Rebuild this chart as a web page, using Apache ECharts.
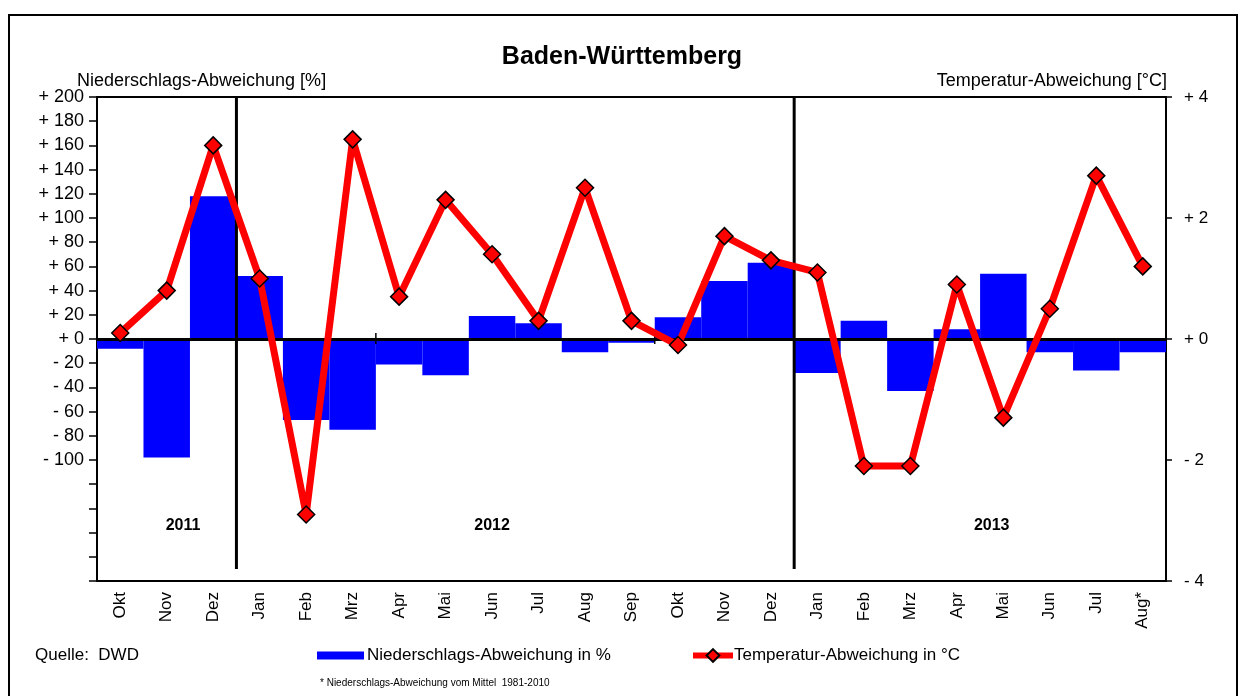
<!DOCTYPE html>
<html>
<head>
<meta charset="utf-8">
<script src="https://cdn.jsdelivr.net/npm/echarts@6/dist/echarts.min.js"></script>
<style>
  html, body { margin: 0; padding: 0; background: #fff; }
  #frame { position: absolute; left: 8px; top: 14px; width: 1230px; height: 700px; border: 2px solid #000; border-bottom: none; box-sizing: border-box; }
  #chart { position: absolute; left: 0; top: 0; width: 1244px; height: 696px; }
</style>
</head>
<body>
<div id="frame"></div>
<div id="chart"></div>
<script>
// Monthly deviations, Oct 2011 – Aug 2013
const months = ['Okt', 'Nov', 'Dez', 'Jan', 'Feb', 'Mrz', 'Apr', 'Mai', 'Jun', 'Jul', 'Aug', 'Sep',
                'Okt', 'Nov', 'Dez', 'Jan', 'Feb', 'Mrz', 'Apr', 'Mai', 'Jun', 'Jul', 'Aug*'];
// precipitation deviation in %
const precipDev = [-8, -98, 118, 52, -67, -75, -21, -30, 19, 13, -11, -3,
                   18, 48, 63, -28, 15, -43, 8, 54, -11, -26, -11];
// temperature deviation in °C
const tempDev = [0.1, 0.8, 3.2, 1.0, -2.9, 3.3, 0.7, 2.3, 1.4, 0.3, 2.5, 0.3,
                 -0.1, 1.7, 1.3, 1.1, -2.1, -2.1, 0.9, -1.3, 0.5, 2.7, 1.2];
// year labels: text, category position
const yearLabels = [['2011', 1.35], ['2012', 8], ['2013', 18.75]];
const yearLabelLevel = -154;
// year boundaries (index of first month of a new year)
const yearStarts = [3, 15];

const FONT = '"Liberation Sans", Arial, sans-serif';
const PRECIP_NAME = 'Niederschlags-Abweichung in %';
const TEMP_NAME = 'Temperatur-Abweichung in °C';

function signed(v) {
  if (v === 0) return '+ 0';
  return (v > 0 ? '+ ' : '- ') + Math.abs(v);
}

const chart = echarts.init(document.getElementById('chart'), null, { renderer: 'canvas' });

chart.setOption({
  animation: false,
  backgroundColor: 'transparent',
  textStyle: { fontFamily: FONT, color: '#000' },
  title: {
    text: 'Baden-Württemberg',
    left: 'center',
    top: 40,
    textStyle: { fontFamily: FONT, fontSize: 25, fontWeight: 'bold', color: '#000' }
  },
  grid: {
    left: 97, right: 78, top: 97, bottom: 115,
    show: true, borderColor: '#000', borderWidth: 2, backgroundColor: 'transparent'
  },
  legend: [
    {
      data: [PRECIP_NAME],
      left: 317, top: 647, padding: 0,
      itemWidth: 47, itemHeight: 8,
      icon: 'rect',
      textStyle: { fontFamily: FONT, fontSize: 17, color: '#000', padding: [0, 0, 0, -2] },
      selectedMode: false
    },
    {
      data: [TEMP_NAME],
      left: 690, top: 647, padding: 0,
      itemWidth: 40, itemHeight: 16,
      lineStyle: { width: 6, color: '#FF0000' },
      textStyle: { fontFamily: FONT, fontSize: 17, color: '#000', padding: [0, 0, 0, -4] },
      selectedMode: false
    }
  ],
  xAxis: {
    type: 'category',
    data: months,
    position: 'bottom',
    boundaryGap: true,
    axisLine: { onZero: false, lineStyle: { color: '#000', width: 2 } },
    axisTick: { show: false },
    axisLabel: { rotate: 90, fontFamily: FONT, fontSize: 17, color: '#000', margin: 11, interval: 0 },
    splitLine: { show: false }
  },
  yAxis: [
    {
      type: 'value',
      min: -200, max: 200, interval: 20,
      position: 'left',
      axisLine: { show: true, lineStyle: { color: '#000', width: 2 } },
      axisTick: { show: true, length: 8, inside: false, lineStyle: { color: '#000', width: 1.5 } },
      axisLabel: {
        fontFamily: FONT, fontSize: 18, color: '#000', margin: 13,
        formatter: v => (v < -100 ? '' : signed(v))
      },
      splitLine: { show: false }
    },
    {
      type: 'value',
      min: -4, max: 4, interval: 2,
      position: 'right',
      axisLine: { show: true, lineStyle: { color: '#000', width: 2 } },
      axisTick: { show: true, length: 6, lineStyle: { color: '#000', width: 1.5 } },
      axisLabel: { fontFamily: FONT, fontSize: 17, color: '#000', margin: 18, formatter: signed },
      splitLine: { show: false }
    }
  ],
  series: [
    {
      name: PRECIP_NAME,
      type: 'bar',
      data: precipDev,
      yAxisIndex: 0,
      barCategoryGap: '0%',
      itemStyle: { color: '#0000FF' },
      z: 2,
      markLine: {
        silent: true,
        symbol: 'none',
        label: { show: false },
        lineStyle: { color: '#000', width: 3, type: 'solid' },
        data: [{ yAxis: 0 }],
        z: 3
      }
    },
    {
      name: TEMP_NAME,
      type: 'line',
      data: tempDev,
      yAxisIndex: 1,
      symbol: 'diamond',
      symbolSize: 17,
      lineStyle: { color: '#FF0000', width: 7 },
      itemStyle: { color: '#FF0000', borderColor: '#000', borderWidth: 1.5 },
      z: 10
    }
  ]
});

// Year separators, year labels and small marks on the zero line
function buildOverlay() {
  const px = i => chart.convertToPixel({ xAxisIndex: 0 }, i);
  const step = px(1) - px(0);
  const boundaryX = i => px(i) - step / 2;
  const yTop = chart.convertToPixel({ yAxisIndex: 0 }, 200);
  const yBottom = chart.convertToPixel({ yAxisIndex: 0 }, -190);
  const yZero = chart.convertToPixel({ yAxisIndex: 0 }, 0);
  const yYear = chart.convertToPixel({ yAxisIndex: 0 }, yearLabelLevel);
  const elements = [];
  yearStarts.forEach(i => {
    const x = boundaryX(i);
    elements.push({
      type: 'line', z: 5, silent: true,
      shape: { x1: x, y1: yTop, x2: x, y2: yBottom },
      style: { stroke: '#000', lineWidth: 3 }
    });
  });
  [6, 12].forEach(i => {
    const x = boundaryX(i);
    elements.push({
      type: 'line', z: 5, silent: true,
      shape: { x1: x, y1: yZero - 6, x2: x, y2: yZero + 5 },
      style: { stroke: '#000', lineWidth: 1.5 }
    });
  });
  yearLabels.forEach(([txt, pos]) => {
    const x = px(0) + pos * step;
    elements.push({
      type: 'text', z: 5, silent: true,
      x: x, y: yYear,
      style: { text: txt, fill: '#000', font: 'bold 16px ' + FONT, align: 'center', verticalAlign: 'middle' }
    });
  });
  // axis titles and notes
  elements.push({
    type: 'text', silent: true, x: 77, y: 81,
    style: { text: 'Niederschlags-Abweichung [%]', fill: '#000', font: '18px ' + FONT, align: 'left', verticalAlign: 'middle' }
  });
  elements.push({
    type: 'text', silent: true, x: 1167, y: 81,
    style: { text: 'Temperatur-Abweichung [°C]', fill: '#000', font: '18px ' + FONT, align: 'right', verticalAlign: 'middle' }
  });
  elements.push({
    type: 'text', silent: true, x: 35, y: 655,
    style: { text: 'Quelle:  DWD', fill: '#000', font: '17px ' + FONT, align: 'left', verticalAlign: 'middle' }
  });
  elements.push({
    type: 'text', silent: true, x: 320, y: 683,
    style: { text: '* Niederschlags-Abweichung vom Mittel  1981-2010', fill: '#000', font: '10px ' + FONT, align: 'left', verticalAlign: 'middle' }
  });
  chart.setOption({ graphic: { elements: elements } });
}
buildOverlay();
</script>
</body>
</html>
